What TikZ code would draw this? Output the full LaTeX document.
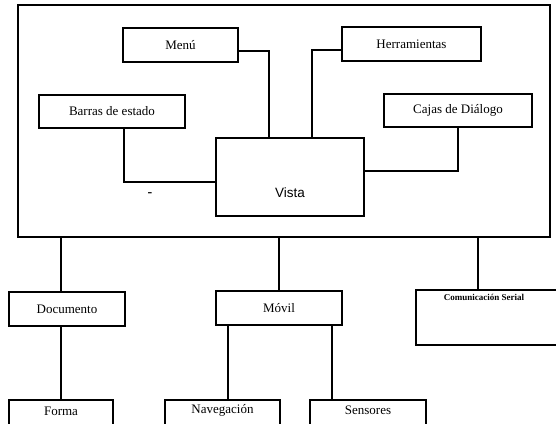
\documentclass[tikz,border=0pt]{standalone}
\usepackage{fontspec}
\setmainfont{Liberation Serif}
\newfontfamily\arialf{Liberation Sans}
\begin{document}
\begin{tikzpicture}[x=1pt,y=-1pt,
  line width=1.7pt,
  box/.style={draw, rectangle, inner sep=0pt, font=\fontsize{13}{15}\selectfont},
  lbl/.style={inner sep=0pt, font=\fontsize{13}{15}\selectfont},
  wire/.style={draw, line width=1.7pt}]
\useasboundingbox (0,0) rectangle (556,423);
\clip (0,0) rectangle (556,423);
% outer frame
\node[box, minimum width=532, minimum height=232] (outer) at (284,121) {};
% inner boxes
\node[box, minimum width=115, minimum height=34] (menu) at (180.5,45) {Menú};
\node[box, minimum width=139, minimum height=34] (herr) at (411.5,44) {Herramientas};
\node[box, minimum width=146, minimum height=33] (barras) at (112,111.5) {Barras de estado};
\node[box, minimum width=148, minimum height=33] (cajas) at (458,110.5) {Cajas de Diálogo};
\node[box, minimum width=148, minimum height=78] (vista) at (290,177) {};
\node[lbl, font=\arialf\fontsize{13.5}{15}\selectfont] (vistatxt) at (290,193) {Vista};
\node[lbl, font=\fontsize{14}{15}\selectfont\bfseries] (dash) at (150,195) {-};
% lower boxes
\node[box, minimum width=116, minimum height=34] (doc) at (67,309) {Documento};
\node[box, minimum width=126, minimum height=34] (movil) at (279,308) {Móvil};
\node[box, minimum width=184, minimum height=55] (com) at (508,317.5) {};
\node[lbl, font=\fontsize{9}{11}\selectfont\bfseries] (comtxt) at (484,297) {Comunicación Serial};
\node[box, minimum width=104, minimum height=40] (forma) at (61,420) {};
\node[lbl] (formatxt) at (61,411) {Forma};
\node[box, minimum width=115, minimum height=40] (nav) at (222.5,420) {};
\node[lbl] (navtxt) at (222.5,410) {Navegación};
\node[box, minimum width=116, minimum height=40] (sens) at (368,420) {};
\node[lbl] (senstxt) at (368,410) {Sensores};
% connectors inside frame
\draw[wire] ([yshift=-6]menu.east) -| ([xshift=-21]vista.north);
\draw[wire] ([yshift=-6]herr.west) -| ([xshift=22]vista.north);
\draw[wire] ([xshift=12]barras.south) |- ([yshift=-5]vista.west);
\draw[wire] (cajas.south) |- ([yshift=6]vista.east);
% connectors below frame
\draw[wire] ([xshift=-6]doc.north) -- ([xshift=-6]doc.north |- outer.south);
\draw[wire] (movil.north) -- (movil.north |- outer.south);
\draw[wire] ([xshift=-30]com.north) -- ([xshift=-30]com.north |- outer.south);
\draw[wire] ([xshift=-6]doc.south) -- (forma.north);
\draw[wire] ([xshift=-51]movil.south) -- ([xshift=-51]movil.south |- nav.north);
\draw[wire] ([xshift=53]movil.south) -- ([xshift=53]movil.south |- sens.north);
\end{tikzpicture}
\end{document}
